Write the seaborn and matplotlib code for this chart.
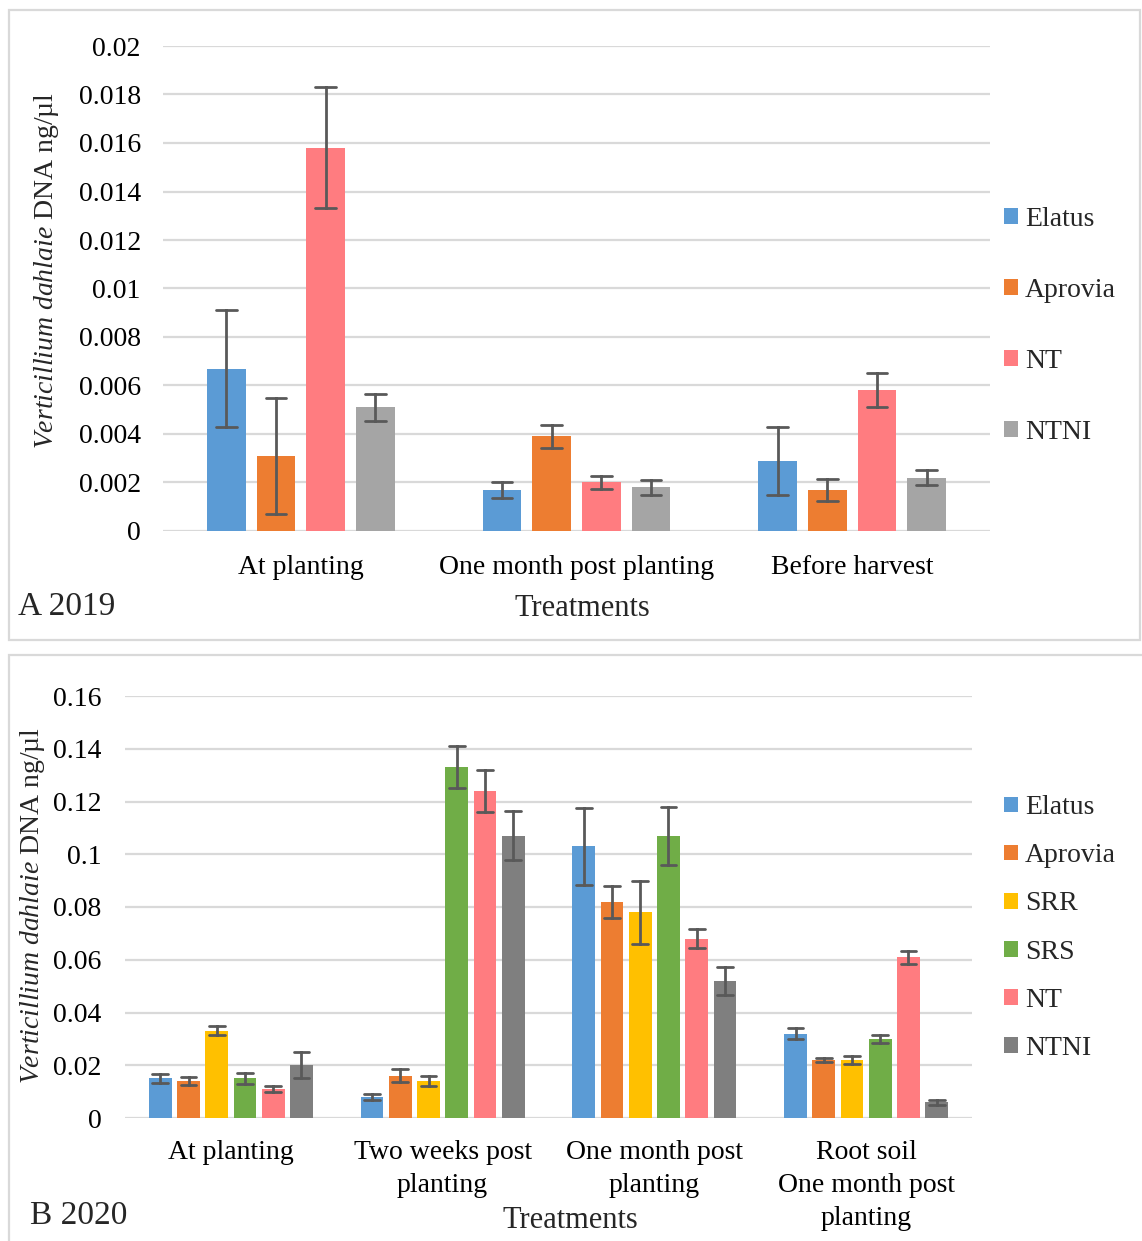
import numpy as np
import pandas as pd
import matplotlib
matplotlib.use("Agg")
import matplotlib.pyplot as plt
from matplotlib.patches import Rectangle, Patch
import seaborn as sns

# ---- 2019 sampling: mean DNA (ng/µl) and error per treatment ----
stages_2019 = ["At planting", "One month post planting", "Before harvest"]
treatments_2019 = ["Elatus", "Aprovia", "NT", "NTNI"]
elatus_2019 = [0.0067, 0.0017, 0.0029]
elatus_2019_err = [0.0024, 0.00033, 0.0014]
aprovia_2019 = [0.0031, 0.0039, 0.0017]
aprovia_2019_err = [0.0024, 0.00047, 0.00045]
nt_2019 = [0.0158, 0.0020, 0.0058]
nt_2019_err = [0.0025, 0.00027, 0.0007]
ntni_2019 = [0.0051, 0.0018, 0.0022]
ntni_2019_err = [0.00055, 0.0003, 0.0003]

# ---- 2020 sampling ----
stages_2020 = ["At planting", "Two weeks post\nplanting", "One month post\nplanting",
               "Root soil\nOne month post\nplanting"]
treatments_2020 = ["Elatus", "Aprovia", "SRR", "SRS", "NT", "NTNI"]
elatus_2020 = [0.015, 0.008, 0.103, 0.032]
elatus_2020_err = [0.0016, 0.0011, 0.0145, 0.002]
aprovia_2020 = [0.014, 0.016, 0.082, 0.022]
aprovia_2020_err = [0.0016, 0.0025, 0.006, 0.0009]
srr_2020 = [0.033, 0.014, 0.078, 0.022]
srr_2020_err = [0.0017, 0.002, 0.012, 0.0014]
srs_2020 = [0.015, 0.133, 0.107, 0.030]
srs_2020_err = [0.002, 0.008, 0.011, 0.0015]
nt_2020 = [0.011, 0.124, 0.068, 0.061]
nt_2020_err = [0.001, 0.008, 0.0036, 0.0025]
ntni_2020 = [0.020, 0.107, 0.052, 0.006]
ntni_2020_err = [0.005, 0.0093, 0.0052, 0.001]

colors_2019 = {"Elatus": "#5B9BD5", "Aprovia": "#ED7D31", "NT": "#FF7C80", "NTNI": "#A5A5A5"}
colors_2020 = {"Elatus": "#5B9BD5", "Aprovia": "#ED7D31", "SRR": "#FFC000",
               "SRS": "#70AD47", "NT": "#FF7C80", "NTNI": "#7F7F7F"}


def long_frame(stages, treatments, means, errs):
    """Two rows per bar (mean - err, mean + err): their mean is the bar
    height and their full range is the error bar."""
    rows = []
    for trt, m_list, e_list in zip(treatments, means, errs):
        for stage, m, e in zip(stages, m_list, e_list):
            rows.append((stage, trt, m - e))
            rows.append((stage, trt, m + e))
    return pd.DataFrame(rows, columns=["stage", "treatment", "value"])


df19 = long_frame(stages_2019, treatments_2019,
                  [elatus_2019, aprovia_2019, nt_2019, ntni_2019],
                  [elatus_2019_err, aprovia_2019_err, nt_2019_err, ntni_2019_err])
df20 = long_frame(stages_2020, treatments_2020,
                  [elatus_2020, aprovia_2020, srr_2020, srs_2020, nt_2020, ntni_2020],
                  [elatus_2020_err, aprovia_2020_err, srr_2020_err, srs_2020_err,
                   nt_2020_err, ntni_2020_err])

sns.set_theme(style="white")
plt.rcParams["font.family"] = ["Liberation Serif", "DejaVu Serif"]
plt.rcParams["mathtext.fontset"] = "custom"
plt.rcParams["mathtext.rm"] = "Liberation Serif"
plt.rcParams["mathtext.it"] = "Liberation Serif:italic"

W, H = 1142, 1241
fig = plt.figure(figsize=(W / 100, H / 100), dpi=100)
FS = 20
GRID = "#D9D9D9"
ERR = dict(color="#595959", linewidth=2)


def fx(px):
    return px / W


def fy(py):
    return 1 - py / H


def style_axis(ax, ymax, step, pad):
    ax.set_ylim(0, ymax)
    ax.set_yticks(np.arange(0, ymax + step / 2, step))
    ax.yaxis.set_major_formatter(matplotlib.ticker.FuncFormatter(lambda v, _: f"{v:g}"))
    ax.yaxis.grid(True, color=GRID, linewidth=1.6)
    ax.set_axisbelow(True)
    for s in ax.spines.values():
        s.set_visible(False)
    ax.tick_params(axis="both", length=0, labelsize=FS, colors="black")
    ax.tick_params(axis="y", pad=pad)
    ax.set_xlabel("")
    ax.set_ylabel("")


# ---------- Panel A: 2019 ----------
ax1 = fig.add_axes([fx(163), fy(531), fx(990 - 163), (531 - 46) / H])
sns.barplot(data=df19, x="stage", y="value", hue="treatment",
            order=stages_2019, hue_order=treatments_2019, palette=colors_2019,
            saturation=1, errorbar=("pi", 100), capsize=0.3, err_kws=ERR,
            width=0.72, gap=0.22, linewidth=0, legend=False, ax=ax1)
style_axis(ax1, 0.02, 0.002, 16)
ax1.tick_params(axis="x", pad=17)

fig.text(fx(47), fy(270), r"$\it{Verticillium\ dahlaie}$ DNA ng/µl",
         rotation=90, ha="center", va="center", fontsize=FS)
fig.text(fx(582), fy(609), "Treatments", ha="center", va="center", fontsize=22)
fig.text(fx(18), fy(607), "A 2019", ha="left", va="center", fontsize=24)

handles19 = [Patch(facecolor=colors_2019[t], edgecolor="none", label=t) for t in treatments_2019]
fig.legend(handles=handles19, loc="center left", bbox_to_anchor=(fx(993), fy(326)),
           frameon=False, fontsize=FS, handlelength=0.5, handleheight=0.5,
           handletextpad=0.25, labelspacing=1.66, borderaxespad=0)

# ---------- Panel B: 2020 ----------
ax2 = fig.add_axes([fx(125), fy(1118), fx(972 - 125), (1118 - 696) / H])
sns.barplot(data=df20, x="stage", y="value", hue="treatment",
            order=stages_2020, hue_order=treatments_2020, palette=colors_2020,
            saturation=1, errorbar=("pi", 100), capsize=0.45, err_kws=ERR,
            width=0.8, gap=0.2, linewidth=0, legend=False, ax=ax2)
style_axis(ax2, 0.16, 0.02, 17)
ax2.tick_params(axis="x", pad=16)
for lab in ax2.get_xticklabels():
    lab.set_linespacing(1.42)

fig.text(fx(33), fy(905), r"$\it{Verticillium\ dahlaie}$ DNA ng/µl",
         rotation=90, ha="center", va="center", fontsize=FS)
fig.text(fx(570), fy(1220), "Treatments", ha="center", va="center", fontsize=22)
fig.text(fx(30), fy(1216), "B 2020", ha="left", va="center", fontsize=24)

handles20 = [Patch(facecolor=colors_2020[t], edgecolor="none", label=t) for t in treatments_2020]
fig.legend(handles=handles20, loc="center left", bbox_to_anchor=(fx(993), fy(928)),
           frameon=False, fontsize=FS, handlelength=0.5, handleheight=0.5,
           handletextpad=0.25, labelspacing=0.83, borderaxespad=0)

# Panel frames
fig.add_artist(Rectangle((fx(9), fy(640)), fx(1140 - 9), (640 - 10) / H,
                         transform=fig.transFigure, fill=False,
                         edgecolor=GRID, linewidth=1.6))
fig.add_artist(Rectangle((fx(9), fy(1250)), fx(1150 - 9), (1250 - 655) / H,
                         transform=fig.transFigure, fill=False,
                         edgecolor=GRID, linewidth=1.6, clip_on=False))

fig.savefig("out.png", dpi=100)
